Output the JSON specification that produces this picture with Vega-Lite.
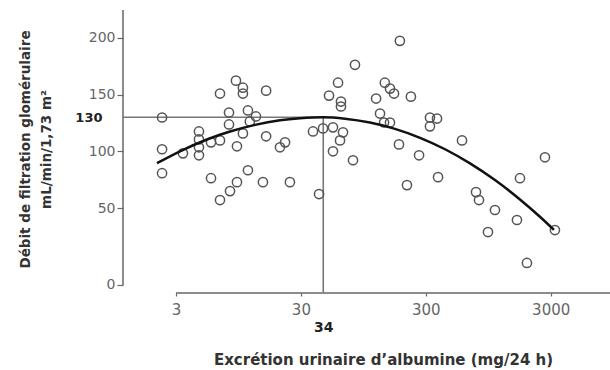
{
  "$schema": "https://vega.github.io/schema/vega-lite/v6.json",
  "width": 487,
  "height": 283,
  "autosize": {"type": "none"},
  "padding": {"left": 123, "top": 10, "right": 0, "bottom": 77},
  "background": "white",
  "config": {"view": {"stroke": null}, "font": "DejaVu Sans"},
  "datasets": {
    "points": [
      {"x": 2.32, "y": 129.8}, {"x": 2.32, "y": 101.8}, {"x": 2.32, "y": 80.7}, {"x": 3.41, "y": 98.2},
      {"x": 4.58, "y": 117.5}, {"x": 4.58, "y": 110.5}, {"x": 4.58, "y": 103.5}, {"x": 4.58, "y": 96.5},
      {"x": 5.72, "y": 107.9}, {"x": 6.75, "y": 109.6}, {"x": 5.72, "y": 76.3}, {"x": 6.75, "y": 150.9},
      {"x": 7.97, "y": 134.2}, {"x": 7.97, "y": 123.7}, {"x": 9.06, "y": 162.3}, {"x": 10.3, "y": 156.1},
      {"x": 10.3, "y": 150.9}, {"x": 11.3, "y": 136.0}, {"x": 13.1, "y": 130.7}, {"x": 11.7, "y": 126.3},
      {"x": 10.3, "y": 115.8}, {"x": 9.23, "y": 104.4}, {"x": 15.8, "y": 153.5}, {"x": 15.8, "y": 113.2},
      {"x": 20.4, "y": 103.5}, {"x": 22.4, "y": 107.9}, {"x": 9.23, "y": 72.8}, {"x": 8.12, "y": 64.9},
      {"x": 6.75, "y": 57.0}, {"x": 11.3, "y": 83.3}, {"x": 14.9, "y": 72.8}, {"x": 24.5, "y": 72.8},
      {"x": 41.9, "y": 62.3},
      {"x": 186, "y": 197.4}, {"x": 81.3, "y": 176.3}, {"x": 59.5, "y": 160.5}, {"x": 50.4, "y": 149.1},
      {"x": 62.8, "y": 143.9}, {"x": 62.8, "y": 139.5}, {"x": 120, "y": 146.5}, {"x": 141, "y": 160.5},
      {"x": 155, "y": 155.3}, {"x": 167, "y": 150.9}, {"x": 228, "y": 148.2}, {"x": 129, "y": 133.3},
      {"x": 139, "y": 125.4}, {"x": 155, "y": 125.4}, {"x": 324, "y": 129.8}, {"x": 369, "y": 128.9},
      {"x": 324, "y": 122.0}, {"x": 37.5, "y": 117.5}, {"x": 45.1, "y": 120.2}, {"x": 54.2, "y": 121.1},
      {"x": 65.2, "y": 116.7}, {"x": 61.7, "y": 109.6}, {"x": 54.2, "y": 100.0}, {"x": 183, "y": 106.1},
      {"x": 265, "y": 96.5}, {"x": 78.4, "y": 92.1}, {"x": 585, "y": 109.6}, {"x": 212, "y": 70.2},
      {"x": 376, "y": 77.2},
      {"x": 2700, "y": 94.7}, {"x": 1703, "y": 76.3}, {"x": 757, "y": 64.0}, {"x": 800, "y": 57.0},
      {"x": 1074, "y": 48.7}, {"x": 1611, "y": 42.2}, {"x": 3244, "y": 35.7}, {"x": 944, "y": 34.4},
      {"x": 1937, "y": 14.3}
    ],
    "curve": [
      {"x": 2.11, "y": 89.5}, {"x": 3.23, "y": 100}, {"x": 5.31, "y": 110.4}, {"x": 8.12, "y": 117.4},
      {"x": 12.9, "y": 123.3}, {"x": 20.4, "y": 127.3}, {"x": 29.5, "y": 129.1}, {"x": 45.3, "y": 130},
      {"x": 67.6, "y": 128.8}, {"x": 107, "y": 125.4}, {"x": 170, "y": 119.8}, {"x": 270, "y": 111.9},
      {"x": 428, "y": 101.8}, {"x": 678, "y": 89.3}, {"x": 1074, "y": 74.6}, {"x": 1703, "y": 57.5},
      {"x": 2461, "y": 44.3}, {"x": 3186, "y": 35.8}
    ],
    "refs": [
      {"x": 1.129, "x2": 45.3, "y": 130, "y2": 130},
      {"x": 45.3, "x2": 45.3, "y": -5.2, "y2": 130}
    ],
    "axislines": [
      {"x": 3, "x2": 8955, "y": -5.2, "y2": -5.2},
      {"x": 1.129, "x2": 1.129, "y": 0, "y2": 224.6}
    ]
  },
  "encoding": {
    "x": {
      "field": "x", "type": "quantitative",
      "scale": {"type": "log", "domain": [1.129, 8955], "nice": false},
      "axis": {
        "values": [3, 30, 45.3, 300, 3000],
        "labelExpr": "datum.value > 40 && datum.value < 50 ? '34' : format(datum.value, 'd')",
        "domain": false, "grid": false,
        "tickSize": 3, "tickColor": "#666", "tickWidth": 1.2,
        "tickOpacity": {"condition": {"test": "datum.value > 40 && datum.value < 50", "value": 0}, "value": 1},
        "labelFont": "DejaVu Sans",
        "labelFontSize": {"condition": {"test": "datum.value > 40 && datum.value < 50", "value": 14}, "value": 15},
        "labelFontWeight": {"condition": {"test": "datum.value > 40 && datum.value < 50", "value": "bold"}, "value": "normal"},
        "labelColor": {"condition": {"test": "datum.value > 40 && datum.value < 50", "value": "#222"}, "value": "#666"},
        "labelPadding": {"condition": {"test": "datum.value > 40 && datum.value < 50", "value": 24}, "value": 6},
        "labelFlush": false, "labelOverlap": false,
        "title": "Excrétion urinaire d’albumine (mg/24 h)",
        "titleFont": "DejaVu Sans", "titleFontSize": 15, "titleFontWeight": "bold", "titleColor": "#333",
        "titleX": 260, "titleY": 66, "titleBaseline": "middle", "titleAlign": "center"
      }
    },
    "y": {
      "field": "y", "type": "quantitative",
      "scale": {"domain": [-5.2, 50, 224.6], "range": [283, 198, 0], "nice": false, "zero": false},
      "axis": {
        "values": [0, 50, 100, 130, 150, 200],
        "domain": false, "grid": false,
        "tickSize": 6, "tickColor": "#666", "tickWidth": 1.2,
        "tickOpacity": {"condition": {"test": "datum.value == 130", "value": 0}, "value": 1},
        "labelFont": "DejaVu Sans",
        "labelFontSize": {"condition": {"test": "datum.value == 130", "value": 13}, "value": 14},
        "labelFontWeight": {"condition": {"test": "datum.value == 130", "value": "bold"}, "value": "normal"},
        "labelColor": {"condition": {"test": "datum.value == 130", "value": "#222"}, "value": "#666"},
        "labelPadding": {"condition": {"test": "datum.value == 130", "value": 15}, "value": 2},
        "labelFlush": false, "labelOverlap": false,
        "title": ["Débit de filtration glomérulaire", "mL/min/1,73 m²"],
        "titleFont": "DejaVu Sans", "titleFontSize": 13.5, "titleFontWeight": "bold", "titleColor": "#333",
        "titleLineHeight": 21,
        "titleAngle": -90, "titleX": -91, "titleY": 139, "titleBaseline": "bottom", "titleAlign": "center"
      }
    }
  },
  "layer": [
    {
      "data": {"name": "axislines"},
      "mark": {"type": "rule", "color": "#666", "strokeWidth": 1.5},
      "encoding": {"x2": {"field": "x2"}, "y2": {"field": "y2"}}
    },
    {
      "data": {"name": "refs"},
      "mark": {"type": "rule", "color": "#777", "strokeWidth": 1.6},
      "encoding": {"x2": {"field": "x2"}, "y2": {"field": "y2"}}
    },
    {
      "data": {"name": "points"},
      "mark": {"type": "point", "shape": "circle", "filled": false, "size": 85, "stroke": "#555", "strokeWidth": 1.5, "opacity": 1}
    },
    {
      "data": {"name": "curve"},
      "mark": {"type": "line", "color": "#111", "strokeWidth": 2.5, "interpolate": "monotone"}
    }
  ]
}
